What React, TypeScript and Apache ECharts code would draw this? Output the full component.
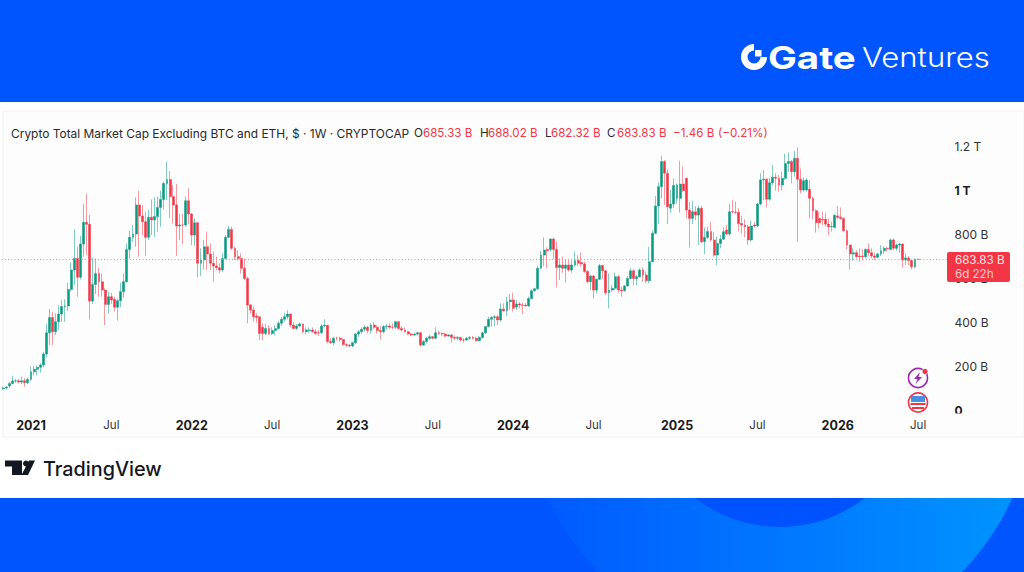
import React, { useEffect, useRef } from "react";
import * as echarts from "echarts";

const FIRST_WEEK = "2020-11-02";
const opens = [97,100,109,121,132,133,127,133,124,139,174,185,194,205,255,351,421,356,401,436,470,473,548,636,689,603,754,853,844,495,571,621,583,545,480,515,503,467,497,538,583,730,785,800,932,882,856,785,876,864,879,921,957,1030,1048,970,932,836,841,841,951,891,795,851,667,682,742,709,667,654,647,636,689,785,821,735,697,689,644,598,477,454,427,
424,376,348,371,348,361,371,394,412,424,436,386,371,382,391,356,361,364,356,351,351,382,385,311,306,326,326,321,298,294,291,306,345,356,367,376,361,386,376,361,356,379,382,376,376,401,371,364,356,345,341,345,351,295,311,326,333,326,351,348,345,336,341,330,326,330,318,318,326,330,326,315,330,351,379,412,421,
424,409,459,451,492,500,468,482,477,476,473,507,542,551,644,704,730,730,777,730,648,659,644,659,636,659,679,670,664,629,583,609,545,594,657,633,533,545,553,606,545,542,564,598,633,598,606,636,614,588,674,803,927,1015,1129,1076,917,936,962,962,1027,1053,909,871,901,886,917,
765,785,811,773,704,757,776,818,800,901,900,899,848,841,833,773,841,836,936,1046,1049,958,1033,1058,1053,1023,1053,1121,1129,1083,1144,1049,1000,1000,1003,962,906,871,867,867,845,833,830,882,876,871,815,750,709,715,700,700,697,730,715,700,694,709,724,735,730,773,735,750,754,682,691,679,651,685.33];
const closes = [100,103,121,132,133,127,133,124,139,174,185,194,205,255,351,421,356,401,436,470,473,548,636,689,603,754,853,844,495,571,620,583,545,480,515,500,467,497,538,583,730,785,800,932,882,856,785,876,864,879,921,957,1030,1048,970,932,836,841,841,951,891,795,851,667,682,742,709,667,654,647,636,689,785,821,735,697,689,644,598,477,454,424,421,
348,348,371,348,361,371,394,412,424,436,386,371,382,391,356,364,364,356,348,350,382,385,311,306,326,326,321,298,294,291,306,345,356,367,376,361,386,376,361,356,379,382,376,376,401,371,364,356,345,341,345,351,295,311,326,333,326,351,348,345,336,341,330,326,330,318,318,326,330,326,315,330,351,379,412,421,424,
409,459,451,492,500,462,482,477,476,473,507,542,551,644,704,727,724,777,730,648,659,644,659,636,659,679,667,664,629,583,609,545,594,657,633,533,545,553,606,545,542,564,598,633,598,606,636,614,588,674,803,927,1015,1129,1076,924,936,1021,1023,1027,997,909,871,901,886,917,765,
785,811,773,704,757,776,810,800,901,900,899,848,841,833,773,836,836,936,1046,1049,958,1033,1058,1053,1023,1053,1121,1129,1083,1144,1049,1000,1042,1045,962,906,851,851,864,845,833,834,885,876,871,815,750,709,715,697,697,697,730,715,700,694,709,724,735,733,773,735,750,754,682,691,679,651,685,683.83];
const highs = [106,109,127,155,142,139,152,145,148,197,200,203,212,265,391,459,447,439,477,500,503,579,670,821,742,791,936,982,886,692,689,647,621,553,538,533,515,506,579,621,757,815,841,967,997,932,901,909,957,967,970,997,1038,1129,1086,1023,1027,891,891,970,1007,895,871,856,735,773,811,757,720,697,667,712,795,836,833,742,727,712,689,606,482,470,439,
424,394,391,386,376,386,405,424,442,454,439,401,391,397,394,376,376,376,367,364,391,412,386,326,333,333,333,326,303,300,311,351,364,376,386,382,394,400,386,382,386,391,394,394,405,404,382,376,360,351,351,356,354,318,333,341,336,376,360,354,351,345,345,339,336,333,326,333,336,336,333,336,356,382,424,427,432,
433,485,485,515,527,533,500,492,488,485,515,548,556,654,724,785,739,780,783,765,689,697,682,682,682,720,704,715,674,636,614,614,598,664,659,636,621,568,624,614,561,567,609,644,639,614,644,648,629,742,815,973,1033,1156,1136,1094,1000,1053,1030,1133,1106,1056,947,951,927,930,927,
830,833,854,810,788,795,830,841,936,954,947,917,882,867,841,861,856,942,1076,1091,1053,1053,1114,1076,1068,1083,1164,1170,1136,1179,1194,1098,1057,1053,1045,970,912,901,901,897,871,856,891,927,921,876,821,750,735,727,735,730,735,757,735,715,715,750,745,742,780,780,757,760,757,712,700,685,689,688.02];
const lows = [91,94,100,117,124,121,118,106,118,133,158,158,170,194,239,295,295,341,364,401,401,451,538,568,515,594,697,704,412,482,527,515,515,386,439,482,447,406,467,512,579,689,765,742,697,795,700,773,795,788,811,833,912,954,871,848,700,773,754,833,845,750,745,603,609,639,636,636,583,636,621,629,685,780,727,682,679,621,591,394,439,401,397,
318,318,341,341,341,341,364,382,401,412,376,367,364,376,348,345,351,351,341,336,345,376,303,300,295,315,311,291,288,285,285,300,333,345,356,348,348,367,348,321,348,364,367,367,367,364,356,351,341,336,336,339,288,291,303,318,321,321,341,336,330,333,306,318,318,311,306,315,318,321,311,311,324,345,376,379,382,
385,401,447,427,454,447,454,462,436,470,470,503,536,545,639,654,644,720,685,557,591,624,579,629,624,651,654,651,624,576,545,507,530,591,594,523,462,538,545,533,515,538,561,594,568,568,603,583,576,576,709,800,845,962,932,845,897,917,939,897,992,871,739,845,864,750,757,
709,777,765,697,659,735,790,795,791,894,891,811,803,785,750,765,830,833,932,954,921,951,1023,997,992,997,1045,1083,1030,1060,765,985,992,992,871,867,806,826,841,833,795,811,826,867,864,811,730,639,679,689,674,679,689,700,689,682,689,700,709,720,727,727,724,715,648,659,659,639,644,682.32];

const TICK_DATES = ["2021-01-04","2021-07-05","2022-01-03","2022-07-04","2023-01-02","2023-07-03","2024-01-01","2024-07-01","2025-01-06","2025-07-07","2026-01-05","2026-07-06"];
const TICK_LABELS = ["2021","Jul","2022","Jul","2023","Jul","2024","Jul","2025","Jul","2026","Jul"];
const PRICE_TICKS: Record<number, string> = { 0: "0", 200: "200 B", 400: "400 B", 600: "600 B", 800: "800 B", 1000: "1 T", 1200: "1.2 T" };
const LAST_PRICE = 683.83;
const TITLE = "Crypto Total Market Cap Excluding BTC and ETH, $ · 1W · CRYPTOCAP";
const GREEN = "#089981";
const RED = "#F23645";
const FONT = "Inter";
const EMPTY_WEEKS = 9;

function weekly(count: number): string[] {
  const start = new Date(FIRST_WEEK + "T00:00:00Z").getTime();
  const out: string[] = [];
  for (let i = 0; i < count; i++) out.push(new Date(start + i * 7 * 86400000).toISOString().slice(0, 10));
  return out;
}

const header = (text: string, x: number, fill: string, fontSize = 11.6) => ({
  type: "text", z: 50, silent: true,
  style: { text, x, y: 133, fill, fontFamily: FONT, fontSize, verticalAlign: "middle", textBaseline: "middle" },
});

export default function App() {
  const ref = useRef<HTMLDivElement>(null);
  useEffect(() => {
    if (!ref.current) return;
    const chart = echarts.init(ref.current, undefined, { renderer: "svg" });
    const cats = weekly(opens.length + EMPTY_WEEKS);
    const bars = opens.map((o, i) => [o, closes[i], lows[i], highs[i]]);
    const w = 3.091;
    const priceLine = { color: "#F5838C", type: [1, 2.2], width: 1, opacity: 1 };
    chart.setOption({
      animation: false,
      backgroundColor: "#0055FF",
      grid: { left: 1.65, top: 146, width: cats.length * w, height: 264, containLabel: false },
      xAxis: {
        type: "category", data: cats, boundaryGap: true,
        axisLine: { show: false }, axisTick: { show: false }, splitLine: { show: false },
        axisLabel: {
          interval: (_: number, v: string) => TICK_DATES.includes(v),
          margin: 9, hideOverlap: false,
          formatter: (v: string) => {
            const l = TICK_LABELS[TICK_DATES.indexOf(v)];
            return l === "Jul" ? `{m|${l}}` : `{y|${l}}`;
          },
          rich: {
            m: { fontFamily: FONT, fontSize: 11.5, color: "#333" },
            y: { fontFamily: FONT, fontSize: 12.5, fontWeight: 700, color: "#1a1a1a" },
          },
        },
      },
      yAxis: {
        type: "value", position: "right", min: 0, max: 1200, interval: 200, scale: false,
        axisLine: { show: false }, axisTick: { show: false }, splitLine: { show: false },
        axisLabel: {
          margin: 7,
          formatter: (v: number) => {
            const l = PRICE_TICKS[v] ?? "";
            return v === 0 || v === 1000 ? `{b|${l}}` : `{n|${l}}`;
          },
          rich: {
            n: { fontFamily: FONT, fontSize: 12, color: "#333" },
            b: { fontFamily: FONT, fontSize: 12, fontWeight: 700, color: "#1a1a1a" },
          },
        },
      },
      series: [{
        type: "candlestick", data: bars, barWidth: 2.4, silent: true,
        itemStyle: {
          color: GREEN, color0: RED,
          borderColor: "rgba(8,153,129,0.5)", borderColor0: "rgba(242,54,69,0.5)",
          borderColorDoji: "rgba(242,54,69,0.5)", borderWidth: 1,
        },
        markLine: {
          silent: true, symbol: "none", animation: false, label: { show: false },
          lineStyle: priceLine,
          data: [{ yAxis: LAST_PRICE, lineStyle: priceLine }],
        },
      }],
      graphic: { elements: [
        { type: "circle", z: -10, silent: true, shape: { cx: 780, cy: 395, r: 254 },
          style: { fill: new echarts.graphic.LinearGradient(0, 0, 1, 0, [{ offset: 0, color: "#0058FF" }, { offset: 1, color: "#0096FF" }]) } },
        { type: "circle", z: -9, silent: true, shape: { cx: 780, cy: 388, r: 139 }, style: { fill: "#0052FF" } },
        { type: "rect", z: -8, silent: true, shape: { x: 0, y: 102, width: 1024, height: 396 }, style: { fill: "#FFFFFF" } },
        { type: "rect", z: -7, silent: true, shape: { x: 3, y: 111, width: 1021, height: 326 }, style: { fill: "#FDFDFD", stroke: "#F0F0F0", lineWidth: 1 } },
        // Gate Ventures logo
        { type: "sector", z: 50, silent: true, shape: { cx: 754, cy: 57, r: 13, r0: 6.5, startAngle: 0, endAngle: Math.PI * 1.5, clockwise: true }, style: { fill: "#fff" } },
        { type: "rect", z: 50, silent: true, shape: { x: 755, y: 50, width: 6.5, height: 6.5 }, style: { fill: "#fff" } },
        { type: "text", z: 50, silent: true, x: 768, y: 57, scaleX: 1.24, style: { text: "Gate", x: 0, y: 0, fill: "#fff", fontFamily: FONT, fontSize: 31, fontWeight: 700, verticalAlign: "middle", textBaseline: "middle" } },
        { type: "text", z: 50, silent: true, x: 862, y: 57, scaleX: 1.13, style: { text: "Ventures", x: 0, y: 0, fill: "#fff", fontFamily: FONT, fontSize: 27.5, fontWeight: 300, verticalAlign: "middle", textBaseline: "middle" } },
        // header
        header(TITLE, 11, "#2a2a2a", 11.95),
        header("O", 414, "#2a2a2a"), header("685.33 B", 423, RED),
        header("H", 480, "#2a2a2a"), header("688.02 B", 488, RED),
        header("L", 545, "#2a2a2a"), header("682.32 B", 551, RED),
        header("C", 607, "#2a2a2a"), header("683.83 B", 617, RED),
        header("−1.46 B", 673, RED), header("(−0.21%)", 718, RED),
        // pane clip under the "0" tick
        { type: "rect", z: 40, silent: true, shape: { x: 948, y: 413.5, width: 70, height: 20 }, style: { fill: "#FDFDFD" } },
        // price tag
        { type: "rect", z: 50, silent: true, shape: { x: 947, y: 252, width: 63, height: 30, r: 2 }, style: { fill: RED } },
        { type: "text", z: 51, silent: true, style: { text: "683.83 B", x: 955, y: 260, fill: "#FFE4E6", fontFamily: FONT, fontSize: 11.6, verticalAlign: "middle", textBaseline: "middle" } },
        { type: "text", z: 51, silent: true, style: { text: "6d 22h", x: 955, y: 274, fill: "#FFC9CE", fontFamily: FONT, fontSize: 11.6, verticalAlign: "middle", textBaseline: "middle" } },
        // event icons
        { type: "circle", z: 50, silent: true, shape: { cx: 918, cy: 378, r: 9.5 }, style: { fill: "#fff", stroke: "#9C27B0", lineWidth: 1.6 } },
        { type: "polygon", z: 51, silent: true, shape: { points: [[920, 372], [914, 379], [917.5, 379], [915.5, 384], [922, 377], [918.5, 377]] }, style: { fill: "#9C27B0" } },
        { type: "circle", z: 52, silent: true, shape: { cx: 925, cy: 371.5, r: 3 }, style: { fill: RED, stroke: "#fff", lineWidth: 0.8 } },
        { type: "circle", z: 50, silent: true, shape: { cx: 918, cy: 402.5, r: 9.5 }, style: { fill: "#fff", stroke: RED, lineWidth: 1.6 } },
        { type: "rect", z: 51, silent: true, shape: { x: 911, y: 396, width: 14, height: 6 }, style: { fill: "#4A90E2" } },
        { type: "rect", z: 51, silent: true, shape: { x: 910.5, y: 403, width: 15, height: 2 }, style: { fill: RED } },
        { type: "rect", z: 51, silent: true, shape: { x: 912, y: 407, width: 12, height: 2 }, style: { fill: RED } },
        // TradingView logo
        { type: "polygon", z: 50, silent: true, shape: { points: [[5, 460.5], [22, 460.5], [22, 475], [12, 475], [12, 466.5], [5, 466.5]] }, style: { fill: "#131722" } },
        { type: "circle", z: 50, silent: true, shape: { cx: 26, cy: 463.5, r: 3 }, style: { fill: "#131722" } },
        { type: "polygon", z: 50, silent: true, shape: { points: [[29, 460.5], [35, 460.5], [28, 475], [21.5, 475]] }, style: { fill: "#131722" } },
        { type: "text", z: 50, silent: true, style: { text: "TradingView", x: 43, y: 469, fill: "#131722", fontFamily: FONT, fontSize: 19.8, fontWeight: 500, verticalAlign: "middle", textBaseline: "middle" } },
      ] },
    });
    return () => chart.dispose();
  }, []);
  return <div ref={ref} style={{ position: "fixed", left: 0, top: 0, width: 1024, height: 572 }} />;
}
